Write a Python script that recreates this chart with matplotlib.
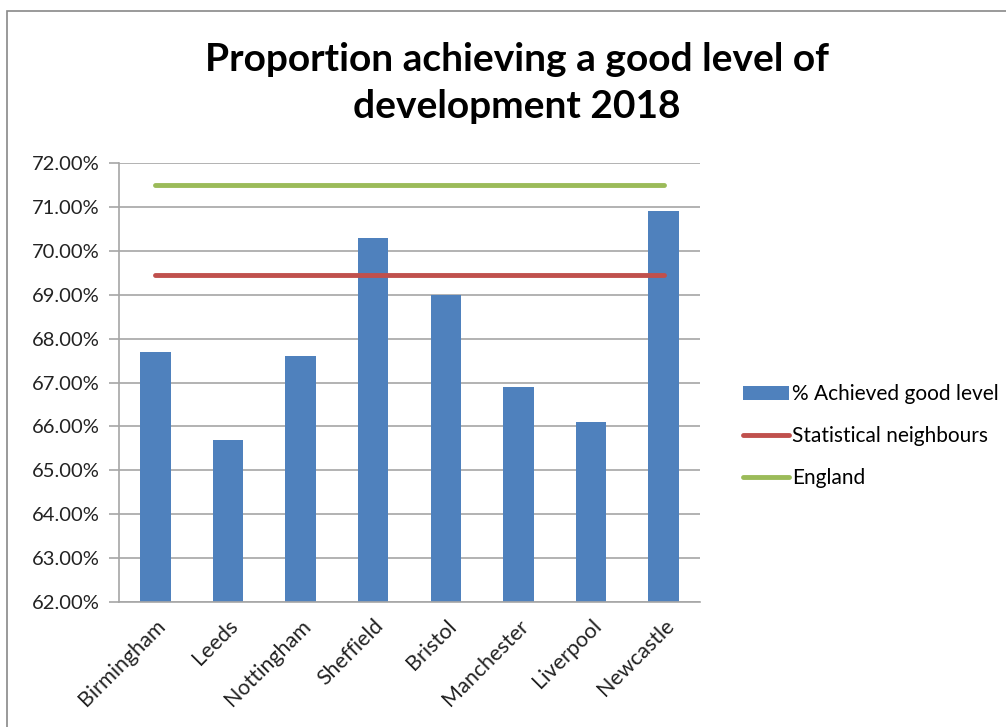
import matplotlib
matplotlib.use('Agg')
import matplotlib.pyplot as plt
from matplotlib.patches import Rectangle
from matplotlib.ticker import FuncFormatter, MultipleLocator
import numpy as np

plt.rcParams['font.family'] = ['Lato', 'DejaVu Sans']

cities = ['Birmingham', 'Leeds', 'Nottingham', 'Sheffield', 'Bristol',
          'Manchester', 'Liverpool', 'Newcastle']
achieved = [67.7, 65.7, 67.6, 70.3, 69.0, 66.9, 66.1, 70.9]
stat_neighbours = [69.45] * len(cities)
england = [71.5] * len(cities)

BAR_COLOR = '#4F81BD'
RED = '#C0504D'
GREEN = '#9BBB59'
GRID = '#A6A6A6'

fig = plt.figure(figsize=(10.06, 7.27), dpi=100)
ax = fig.add_axes([119 / 1006, 1 - 602 / 727, (700 - 119) / 1006, (602 - 163) / 727])

# chart frame
fig.patches.append(Rectangle((7 / 1006, -0.1), 1.2, 1 - 11 / 727 + 0.1,
                             transform=fig.transFigure, fill=False,
                             edgecolor='#898989', linewidth=1.2))

x = np.arange(len(cities))
ax.bar(x, achieved, width=0.42, color=BAR_COLOR, label='% Achieved good level', zorder=2)
ax.plot(x, stat_neighbours, color=RED, linewidth=3.5, solid_capstyle='round',
        label='Statistical neighbours', zorder=3)
ax.plot(x, england, color=GREEN, linewidth=3.5, solid_capstyle='round',
        label='England', zorder=3)

ax.set_xlim(-0.5, len(cities) - 0.5)
ax.set_ylim(62, 72)
ax.yaxis.set_major_locator(MultipleLocator(1))
ax.yaxis.set_major_formatter(FuncFormatter(lambda v, p: f'{v:.2f}%'))
ax.grid(axis='y', color=GRID, linewidth=1.2, zorder=0)
ax.set_axisbelow(True)

for s in ['top', 'right']:
    ax.spines[s].set_visible(False)
for s in ['left', 'bottom']:
    ax.spines[s].set_color(GRID)
    ax.spines[s].set_linewidth(1.2)

ax.tick_params(axis='y', length=7, color=GRID, width=1.2, labelsize=14.5, pad=7,
               labelcolor='#222222')
ax.tick_params(axis='x', length=0, pad=10, labelsize=15.5, labelcolor='#222222')
ax.set_xticks(x)
ax.set_xticklabels(cities, rotation=45, ha='right', rotation_mode='anchor')

fig.text(0.514, 1 - 83 / 727, 'Proportion achieving a good level of\ndevelopment 2018',
         ha='center', va='center', fontsize=28, fontweight='bold',
         linespacing=1.4, color='black')

handles, labels = ax.get_legend_handles_labels()
order = [2, 0, 1]
leg = fig.legend([handles[i] for i in order], [labels[i] for i in order],
                 loc='center left', bbox_to_anchor=(735 / 1006, 1 - 436 / 727),
                 frameon=False, fontsize=15, handlelength=2.2, handletextpad=0.15,
                 labelspacing=1.05, borderaxespad=0)

fig.savefig('out.png', dpi=100)
